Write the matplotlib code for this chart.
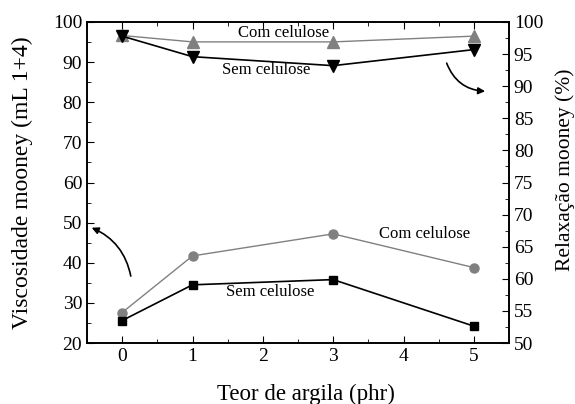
import matplotlib.pyplot as plt
from matplotlib.ticker import MultipleLocator

plt.rcParams['font.family'] = ['Liberation Serif', 'DejaVu Serif']

teor = [0, 1, 3, 5]
visc_com = [27.6, 41.7, 47.2, 38.8]
visc_sem = [25.6, 34.5, 35.8, 24.2]
relax_com = [97.9, 96.9, 96.9, 97.8]
relax_sem = [97.8, 94.6, 93.2, 95.7]

fig = plt.figure(figsize=(5.75, 4.04), dpi=100)
ax = fig.add_axes([87/575, 1 - 343/404, 422/575, 321/404])
ax2 = ax.twinx()

ax.plot(teor, visc_com, color='#808080', lw=1.0, marker='o', ms=6.5, zorder=3)
ax.plot(teor, visc_sem, color='black', lw=1.2, marker='s', ms=6, zorder=3)
ax2.plot(teor, relax_com, color='#808080', lw=1.0, marker='^', ms=8, zorder=3)
ax2.plot(teor, relax_sem, color='black', lw=1.2, marker='v', ms=8, zorder=3)

ax.set_xlim(-0.5, 5.5)
ax.set_ylim(20, 100)
ax2.set_ylim(50, 100)

ax.xaxis.set_major_locator(MultipleLocator(1))
ax.xaxis.set_minor_locator(MultipleLocator(0.5))
ax.yaxis.set_major_locator(MultipleLocator(10))
ax.yaxis.set_minor_locator(MultipleLocator(5))
ax2.yaxis.set_major_locator(MultipleLocator(5))
ax2.yaxis.set_minor_locator(MultipleLocator(2.5))

ax.tick_params(which='both', direction='in', top=True, labelsize=14)
ax.tick_params(which='major', length=5)
ax.tick_params(which='minor', length=3)
ax2.tick_params(which='both', direction='in', labelsize=14)
ax2.tick_params(which='major', length=5)
ax2.tick_params(which='minor', length=3)
for a in (ax, ax2):
    for s in a.spines.values():
        s.set_linewidth(1.2)

ax.set_xlabel('Teor de argila (phr)', fontsize=16.5)
ax.xaxis.set_label_coords(0.519, -0.128)
ax.set_ylabel('Viscosidade mooney (mL 1+4)', fontsize=17)
ax.yaxis.set_label_coords(-0.127, 0.498)
ax2.set_ylabel('Relaxação mooney (%)', fontsize=15.5)
ax2.yaxis.set_label_coords(1.109, 0.539)

ax2.text(2.3, 98.3, 'Com celulose', fontsize=12, ha='center', va='center')
ax2.text(2.05, 92.6, 'Sem celulose', fontsize=12, ha='center', va='center')
ax.text(4.3, 47.2, 'Com celulose', fontsize=12, ha='center', va='center')
ax.text(2.1, 32.6, 'Sem celulose', fontsize=12, ha='center', va='center')

ax2.annotate('', xy=(5.2, 89.2), xytext=(4.6, 94.0),
             arrowprops=dict(arrowstyle='-|>', color='black', lw=1.2,
                             connectionstyle='arc3,rad=0.35'))
ax.annotate('', xy=(-0.47, 49.0), xytext=(0.13, 36.0),
            arrowprops=dict(arrowstyle='-|>', color='black', lw=1.2,
                            connectionstyle='arc3,rad=0.28'))

fig.savefig('out.png', dpi=100)
